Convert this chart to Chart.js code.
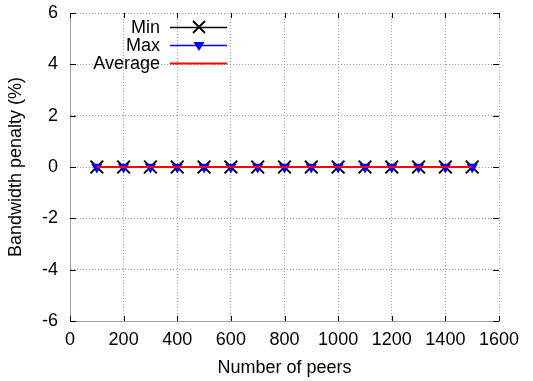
<!DOCTYPE html>
<html><head><meta charset="utf-8">
<script src="https://cdn.jsdelivr.net/npm/chart.js@4/dist/chart.umd.min.js"></script>
<style>html,body{margin:0;padding:0;background:#fff}#wrap{width:533px;height:381px}</style>
</head><body><div id="wrap"><canvas id="c" width="533" height="381"></canvas></div>
<script>
const peers = [100,200,300,400,500,600,700,800,900,1000,1100,1200,1300,1400,1500];
const minPenalty = [0,0,0,0,0,0,0,0,0,0,0,0,0,0,0];
const maxPenalty = [0,0,0,0,0,0,0,0,0,0,0,0,0,0,0];
const avgPenalty = [0,0,0,0,0,0,0,0,0,0,0,0,0,0,0];
const xTicks = [0,200,400,600,800,1000,1200,1400,1600];
const yTicks = [-6,-4,-2,0,2,4,6];
const seriesNames = ['Min','Max','Average'];

const FONT = 'Liberation Sans, Arial, Helvetica, sans-serif';
const FS = 18;
const pts = a => peers.map((x,i)=>({x:x,y:a[i]}));

const innerTicks = {
  id:'innerTicks',
  afterDatasetsDraw(chart){
    const {ctx, chartArea:ca, scales:{x,y}} = chart;
    ctx.save(); ctx.strokeStyle='#000'; ctx.lineWidth=1; ctx.setLineDash([]);
    ctx.beginPath();
    xTicks.forEach(v=>{const p=Math.round(x.getPixelForValue(v))+0.5;
      ctx.moveTo(p,ca.bottom);ctx.lineTo(p,ca.bottom-5);
      ctx.moveTo(p,ca.top);ctx.lineTo(p,ca.top+5);});
    yTicks.forEach(v=>{const p=Math.round(y.getPixelForValue(v))+0.5;
      ctx.moveTo(ca.left,p);ctx.lineTo(ca.left+6,p);
      ctx.moveTo(ca.right,p);ctx.lineTo(ca.right-6,p);});
    ctx.stroke(); ctx.restore();
  }
};

const keyBox = {
  id:'keyBox',
  afterDraw(chart){
    const ctx = chart.ctx;
    const ds = chart.data.datasets;
    const rows = [27,45,63];
    ctx.save();
    ctx.font = FS + 'px ' + FONT;
    ctx.textAlign='right'; ctx.textBaseline='middle';
    ds.forEach((d,i)=>{
      const yy = rows[i];
      ctx.fillStyle='#000';
      ctx.fillText(d.label,160,yy+1);
      ctx.strokeStyle=d.borderColor; ctx.lineWidth=d.borderWidth; ctx.setLineDash([]);
      ctx.beginPath(); ctx.moveTo(170,yy+0.5); ctx.lineTo(227,yy+0.5); ctx.stroke();
      const cx=199;
      if(d.pointStyle==='crossRot'){
        ctx.strokeStyle='#000'; ctx.lineWidth=1.8;
        ctx.beginPath(); ctx.moveTo(cx-6,yy-6); ctx.lineTo(cx+6,yy+6);
        ctx.moveTo(cx+6,yy-6); ctx.lineTo(cx-6,yy+6); ctx.stroke();
      } else if(d.pointStyle==='triangle'){
        ctx.fillStyle='#0000ff';
        ctx.beginPath(); ctx.moveTo(cx-5.5,yy-3); ctx.lineTo(cx+5.5,yy-3); ctx.lineTo(cx,yy+6); ctx.closePath(); ctx.fill();
      }
    });
    ctx.restore();
  }
};

new Chart(document.getElementById('c'), {
  type:'scatter',
  data:{datasets:[
    {label:seriesNames[0], data:pts(minPenalty), showLine:true, borderColor:'#000000', backgroundColor:'#000000',
     borderWidth:1.5, pointStyle:'crossRot', pointRadius:9, pointBorderWidth:2, order:3},
    {label:seriesNames[1], data:pts(maxPenalty), showLine:true, borderColor:'#0000ff', backgroundColor:'#0000ff',
     borderWidth:1.5, pointStyle:'triangle', rotation:180, pointRadius:6.5, pointBorderWidth:0, order:2},
    {label:seriesNames[2], data:pts(avgPenalty), showLine:true, borderColor:'#ff0000', backgroundColor:'#ff0000',
     borderWidth:2, pointRadius:0, order:1}
  ]},
  options:{
    responsive:false, animation:false, devicePixelRatio:1,
    layout:{padding:{left:0,right:34,top:13,bottom:0}},
    plugins:{legend:{display:false}, tooltip:{enabled:false}},
    scales:{
      x:{type:'linear', min:0, max:1600,
        afterBuildTicks:s=>{s.ticks=xTicks.map(v=>({value:v}));},
        afterFit:s=>{s.height=60; s.paddingLeft=0; s.paddingRight=0;},
        grid:{color:'#a0a0a0', lineWidth:1, drawTicks:false},
        border:{display:true, color:'#a0a0a0', dash:[1,2]},
        ticks:{color:'#000', font:{family:FONT,size:FS}, padding:8, maxRotation:0, autoSkip:false, callback:v=>String(v)},
        title:{display:true, text:'Number of peers', color:'#000', font:{family:FONT,size:FS}, padding:{top:4,bottom:2}}
      },
      y:{type:'linear', min:-6, max:6,
        afterBuildTicks:s=>{s.ticks=yTicks.map(v=>({value:v}));},
        afterFit:s=>{s.width=70; s.paddingTop=0; s.paddingBottom=0;},
        grid:{color:'#a0a0a0', lineWidth:1, drawTicks:false},
        border:{display:true, color:'#a0a0a0', dash:[1,2]},
        ticks:{color:'#000', font:{family:FONT,size:FS}, padding:12, autoSkip:false, callback:v=>String(v)},
        title:{display:true, text:'Bandwidth penalty (%)', color:'#000', font:{family:FONT,size:FS}, padding:{top:5,bottom:4}}
      }
    }
  },
  plugins:[innerTicks,keyBox]
});
</script>
</body></html>
